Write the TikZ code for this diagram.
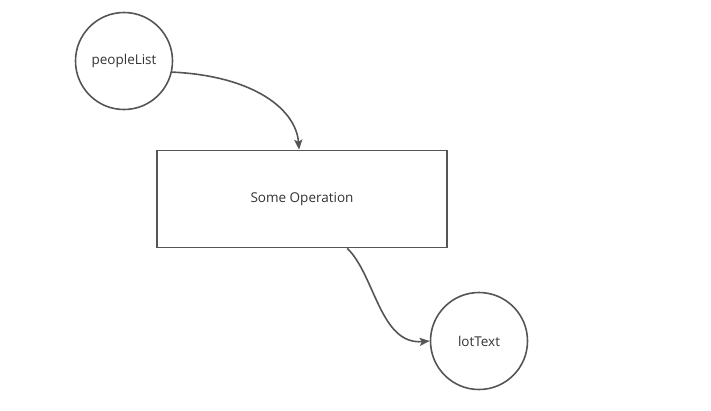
\documentclass[tikz,border=0pt]{standalone}
\usepackage{fontspec}
\setmainfont{Open Sans}
\usetikzlibrary{arrows.meta,calc}
\definecolor{ln}{HTML}{555555}
\definecolor{tx}{HTML}{333333}
\tikzset{
  circ/.style={circle,draw=ln,line width=1.6pt,minimum size=97pt,inner sep=0pt,text=tx,font=\fontsize{13.5pt}{16pt}\selectfont},
  opbox/.style={rectangle,draw=ln,line width=1.6pt,minimum width=290pt,minimum height=97pt,inner sep=0pt,text=tx,font=\fontsize{13.5pt}{16pt}\selectfont},
  conn/.style={draw=ln,line width=1.6pt,-{Stealth[length=10pt,width=8pt,inset=2pt]}}
}
\begin{document}
\begin{tikzpicture}[x=1pt,y=-1pt]
\useasboundingbox (0,0) rectangle (711,410);
\node[circ] (pl) at (124,61) {peopleList};
\node[opbox] (op) at (302,199) {Some Operation};
\node[circ] (lt) at (479,341) {lotText};
\coordinate (a1) at ($(op.north west)!0.49!(op.north east)$);
\coordinate (b1) at ($(op.south west)!0.655!(op.south east)$);
\draw[conn] (pl.-13) .. controls (255,76) and (296,110) .. (a1);
\draw[conn] (b1) .. controls (375,275) and (380,345) .. (lt.west);
\end{tikzpicture}
\end{document}
